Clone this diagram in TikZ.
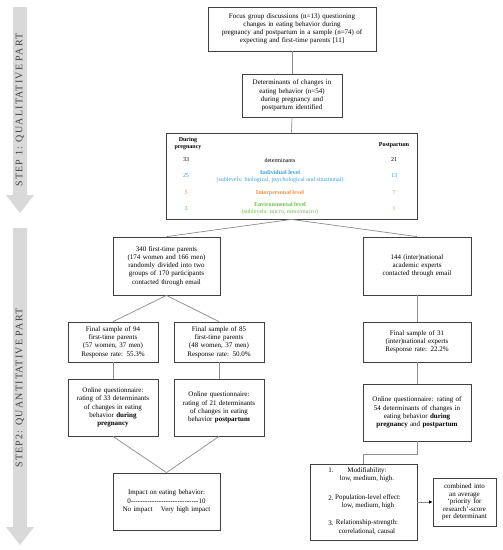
\documentclass[tikz,border=0pt]{standalone}
\usepackage{fontspec}
\setmainfont{Liberation Serif}
\usetikzlibrary{arrows.meta}
\definecolor{indblue}{HTML}{3AA0E0}
\definecolor{intorange}{HTML}{F4903E}
\definecolor{envgreen}{HTML}{6DBF4B}
\definecolor{stepgray}{HTML}{D9D9D9}
\definecolor{linegray}{HTML}{8C8C8C}
\definecolor{boxline}{HTML}{404040}
\definecolor{steptextc}{HTML}{404040}
\begin{document}
\begin{tikzpicture}[x=1pt,y=-1pt,
  box/.style={draw=boxline, line width=0.8pt, fill=white, align=center, inner sep=1pt, font=\fontsize{7}{8.2}\selectfont},
  conn/.style={draw=linegray, line width=0.7pt},
  tbl/.style={inner sep=0pt, align=center, font=\fontsize{6}{7}\selectfont},
  steptext/.style={rotate=90, inner sep=0pt, text=steptextc, font=\fontsize{10}{12}\selectfont\addfontfeature{LetterSpace=12}},
  arrowfill/.style={fill=stepgray}]
\useasboundingbox (0,0) rectangle (503,550);
\fill[white] (0,0) rectangle (503,550);
% step arrows
\fill[arrowfill] (13,7) -- (27,7) -- (27,195) -- (34,195) -- (20,213) -- (6,195) -- (13,195) -- cycle;
\fill[arrowfill] (13,228) -- (27,228) -- (27,527) -- (34,527) -- (20,545) -- (6,527) -- (13,527) -- cycle;
\node[steptext] (s1) at (20,110) {STEP 1: QUALITATIVE PART};
\node[steptext] (s2) at (20,388) {STEP2: QUANTITATIVE PART};
% boxes
\node[box, minimum width=168pt, minimum height=44pt, text width=164pt] (b1) at (292,29)
  {Focus group discussions (n=13) questioning\\changes in eating behavior during\\pregnancy and postpartum in a sample (n=74) of\\expecting and first-time parents [11]};
\node[box, minimum width=100pt, minimum height=43pt, text width=96pt] (b2) at (292,95.5)
  {Determinants of changes in\\eating behavior (n=54)\\during pregnancy and\\postpartum identified};
\node[box, minimum width=251pt, minimum height=86pt] (b3) at (291.5,176) {};
\node[box, minimum width=107pt, minimum height=58pt, text width=103pt] (b4) at (166.5,266)
  {340 first-time parents\\(174 women and 166 men)\\randomly divided into two\\groups of 170 participants\\contacted through email};
\node[box, minimum width=108pt, minimum height=58pt, text width=104pt] (b5) at (417,266)
  {144 (inter)national\\academic experts\\contacted through email};
\node[box, minimum width=90pt, minimum height=40pt, text width=86pt] (b6) at (113,342)
  {Final sample of 94\\first-time parents\\(57 women, 37 men)\\Response rate: 55.3\%};
\node[box, minimum width=90pt, minimum height=40pt, text width=86pt] (b7) at (219,342)
  {Final sample of 85\\first-time parents\\(48 women, 37 men)\\Response rate: 50.0\%};
\node[box, minimum width=108pt, minimum height=40pt, text width=104pt] (b8) at (417,342)
  {Final sample of 31\\(inter)national experts\\Response rate: 22.2\%};
\node[box, minimum width=90pt, minimum height=57pt, text width=86pt] (b9) at (113,407.5)
  {Online questionnaire:\\rating of 33 determinants\\of changes in eating\\behavior \textbf{during}\\\textbf{pregnancy}};
\node[box, minimum width=90pt, minimum height=57pt, text width=86pt] (b10) at (219,407.5)
  {Online questionnaire:\\rating of 21 determinants\\of changes in eating\\behavior \textbf{postpartum}};
\node[box, minimum width=107pt, minimum height=57pt, text width=103pt] (b11) at (166.5,501.5)
  {Impact on eating behavior:\\0-{}-{}-{}-{}-{}-{}-{}-{}-{}-{}-{}-{}-{}-{}-{}-{}-{}-{}-{}-{}-{}-{}-{}-{}-{}-{}-{}-{}-10\\No impact\hspace{1.2em}Very high impact};
\node[box, minimum width=108pt, minimum height=57pt, text width=104pt] (b12) at (417,412.5)
  {Online questionnaire: rating of\\54 determinants of changes in\\eating behavior \textbf{during}\\\textbf{pregnancy} and \textbf{postpartum}};
\node[box, minimum width=107pt, minimum height=76pt] (b13) at (363.5,502) {};
\node[box, minimum width=63pt, minimum height=48pt, text width=60pt, font=\fontsize{7}{7.6}\selectfont] (b14) at (464.5,502)
  {combined into\\an average\\`priority for\\research'-score\\per determinant};
% table contents
\node[tbl, font=\fontsize{6}{7}\selectfont\bfseries] (tdp) at (188,144) {During\\pregnancy};
\node[tbl, font=\fontsize{6}{7}\selectfont\bfseries] (tpp) at (394,145) {Postpartum};
\node[tbl] (n33) at (186,160) {33};
\node[tbl] (tdet) at (280,160) {determinants};
\node[tbl] (n21) at (394,160) {21};
\node[tbl, text=indblue] (n25) at (186,176) {25};
\node[tbl, text=indblue] (tind) at (280,176.5) {\textbf{Individual level}\\(sublevels: biological, psychological and situational)};
\node[tbl, text=indblue] (n13) at (394,176) {13};
\node[tbl, text=intorange] (n5) at (186,193) {5};
\node[tbl, text=intorange, font=\fontsize{6}{7}\selectfont\bfseries] (tint) at (280,193) {Interpersonal level};
\node[tbl, text=intorange] (n7) at (394,193) {7};
\node[tbl, text=envgreen] (n3) at (186,208.5) {3};
\node[tbl, text=envgreen] (tenv) at (280,209) {\textbf{Environmental level}\\(sublevels: micro, meso/macro)};
\node[tbl, text=envgreen] (n1) at (394,208.5) {1};
% b13 contents
\node[tbl, font=\fontsize{7}{8}\selectfont] (l1n) at (331,470) {1.};
\node[tbl, font=\fontsize{7}{8.4}\selectfont] (l1t) at (367,474.5) {Modifiability:\\low, medium, high.};
\node[tbl, font=\fontsize{7}{8}\selectfont] (l2n) at (331,498) {2.};
\node[tbl, font=\fontsize{7}{8.4}\selectfont] (l2t) at (368,502) {Population-level effect:\\low, medium, high};
\node[tbl, font=\fontsize{7}{8}\selectfont] (l3n) at (331,523) {3.};
\node[tbl, font=\fontsize{7}{8.4}\selectfont] (l3t) at (367,527) {Relationship-strength:\\correlational, causal};
% connectors
\draw[conn] (b1.south) -- (b2.north);
\draw[conn] (b2.south) -- (b3.north);
\draw[conn] (b3.south) -- (b4.north);
\draw[conn] (b3.south) -- (b5.north);
\draw[conn] (b4.south) -- (b6.north);
\draw[conn] (b4.south) -- (b7.north);
\draw[conn] (b5.south) -- (b8.north);
\draw[conn] (b8.south) -- (b12.north);
\draw[conn] (b6.south) -- (b9.north);
\draw[conn] (b7.south) -- (b10.north);
\draw[conn] (b9.south) -- (b11.north);
\draw[conn] (b10.south) -- (b11.north);
\draw[conn] (b12.south) -- ++(0,13) -| (b13.north);
\draw[conn, -{Latex[length=3.5pt,width=3.5pt,color=black]}] (b13.east) -- (b14.west);
\end{tikzpicture}
\end{document}
